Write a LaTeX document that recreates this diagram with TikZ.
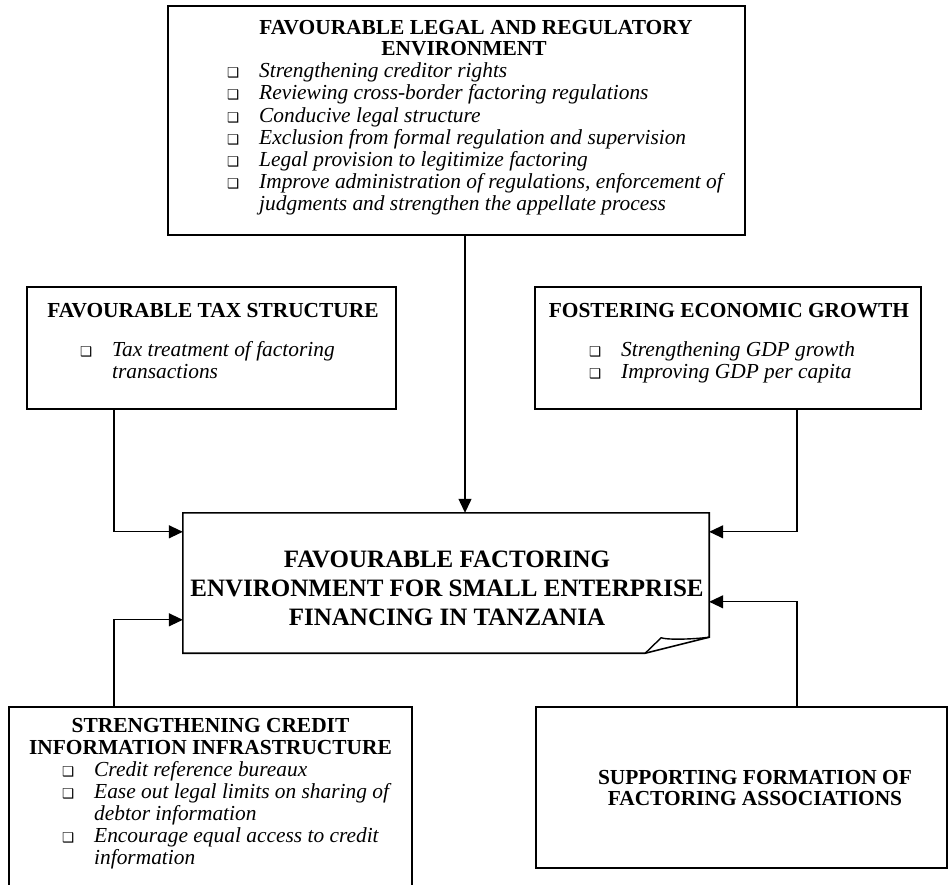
\documentclass[tikz,border=0pt]{standalone}
\usepackage{fontspec}
\setmainfont{Liberation Serif}
\newfontfamily\bulfont{DejaVu Sans}
\usetikzlibrary{arrows.meta}
\tikzset{
  box/.style={draw, line width=1.6pt, rectangle, inner sep=0pt},
  ttl/.style={font=\fontsize{21.4}{22}\selectfont\bfseries, anchor=base, inner sep=0pt},
  itm/.style={font=\fontsize{21.4}{22}\selectfont\itshape, anchor=base west, inner sep=0pt},
  bul/.style={font=\bulfont\fontsize{13.5}{13.5}\selectfont, anchor=base west, inner sep=0pt},
  bigttl/.style={font=\fontsize{25}{29}\selectfont\bfseries, align=center, inner sep=0pt},
  arr/.style={line width=1.2pt, -{Triangle[length=14pt,width=13pt]}},
}
\newcommand\bitem[4]{%
  \node[bul] (#1b) at (#2-32,#3) {❑};
  \node[itm] (#1) at (#2,#3) {#4};
}
\begin{document}
\begin{tikzpicture}[x=1pt,y=-1pt]
\useasboundingbox (0,0) rectangle (949,884);
\clip (0,0) rectangle (949,884);
\fill[white] (0,0) rectangle (949,884);

% boxes
\node[box, minimum width=577pt, minimum height=229pt] (top) at (456.5,120.5) {};
\node[box, minimum width=369pt, minimum height=122pt] (tax) at (211.5,348) {};
\node[box, minimum width=386pt, minimum height=122pt] (growth) at (728,348) {};
\node[box, minimum width=403pt, minimum height=196pt] (credit) at (210.5,805) {};
\node[box, minimum width=411pt, minimum height=161pt] (assoc) at (741.5,787.5) {};
\node[inner sep=0pt, minimum width=526pt, minimum height=140pt] (main) at (446,583) {};

% main box with folded corner
\draw[line width=1.6pt, line join=miter]
  (main.south west) -- ([xshift=-64pt]main.south east)
  -- ([yshift=16pt]main.south east) -- (main.north east)
  -- (main.north west) -- cycle;
\draw[line width=1.4pt, line join=round]
  ([xshift=-64pt]main.south east) -- ([xshift=-48pt,yshift=15.5pt]main.south east)
  .. controls ([xshift=-44pt,yshift=13.5pt]main.south east) and ([xshift=-20pt,yshift=13.5pt]main.south east)
  .. ([yshift=16pt]main.south east);
\node[bigttl] (mainttl) at (447,588) {FAVOURABLE FACTORING\\ENVIRONMENT FOR SMALL ENTERPRISE\\FINANCING IN TANZANIA};

% top box text
\node[ttl] (topt1) at (476,34) {FAVOURABLE LEGAL AND REGULATORY};
\node[ttl] (topt2) at (464,55) {ENVIRONMENT};
\bitem{ta}{259}{77}{Strengthening creditor rights}
\bitem{tb}{259}{99}{Reviewing cross-border factoring regulations}
\bitem{tc}{259}{122}{Conducive legal structure}
\bitem{td}{259}{144}{Exclusion from formal regulation and supervision}
\bitem{te}{259}{166}{Legal provision to legitimize factoring}
\bitem{tf}{259}{188}{Improve administration of regulations, enforcement of}
\node[itm] (tg) at (259,210) {judgments and strengthen the appellate process};

% tax box
\node[ttl] (taxt) at (213,317) {FAVOURABLE TAX STRUCTURE};
\bitem{xa}{112}{356}{Tax treatment of factoring}
\node[itm] (xb) at (112,378) {transactions};

% growth box
\node[ttl] (grt) at (729,317) {FOSTERING ECONOMIC GROWTH};
\bitem{ga}{621}{356}{Strengthening GDP growth}
\bitem{gb}{621}{378}{Improving GDP per capita}

% credit box
\node[ttl] (crt1) at (210.5,732) {STRENGTHENING CREDIT};
\node[ttl] (crt2) at (210.5,754) {INFORMATION INFRASTRUCTURE};
\bitem{ca}{94}{776}{Credit reference bureaux}
\bitem{cb}{94}{798}{Ease out legal limits on sharing of}
\node[itm] (cc) at (94,820) {debtor information};
\bitem{cd}{94}{842}{Encourage equal access to credit}
\node[itm] (ce) at (94,864) {information};

% assoc box
\node[ttl] (ast1) at (755,784) {SUPPORTING FORMATION OF};
\node[ttl] (ast2) at (755,805) {FACTORING ASSOCIATIONS};

% connectors
\draw[arr] ([xshift=8.5pt]top.south) -- ([xshift=8.5pt]top.south |- main.north);
\draw[arr] ([xshift=-97.5pt]tax.south) |- ([yshift=-19pt]main.north west);
\draw[arr] ([xshift=69pt]growth.south) |- ([yshift=-19pt]main.north east);
\draw[arr] ([xshift=-96.5pt]credit.north) |- ([yshift=-107pt]main.north west);
\draw[arr] ([xshift=55.5pt]assoc.north) |- ([yshift=-89pt]main.north east);
\end{tikzpicture}
\end{document}
